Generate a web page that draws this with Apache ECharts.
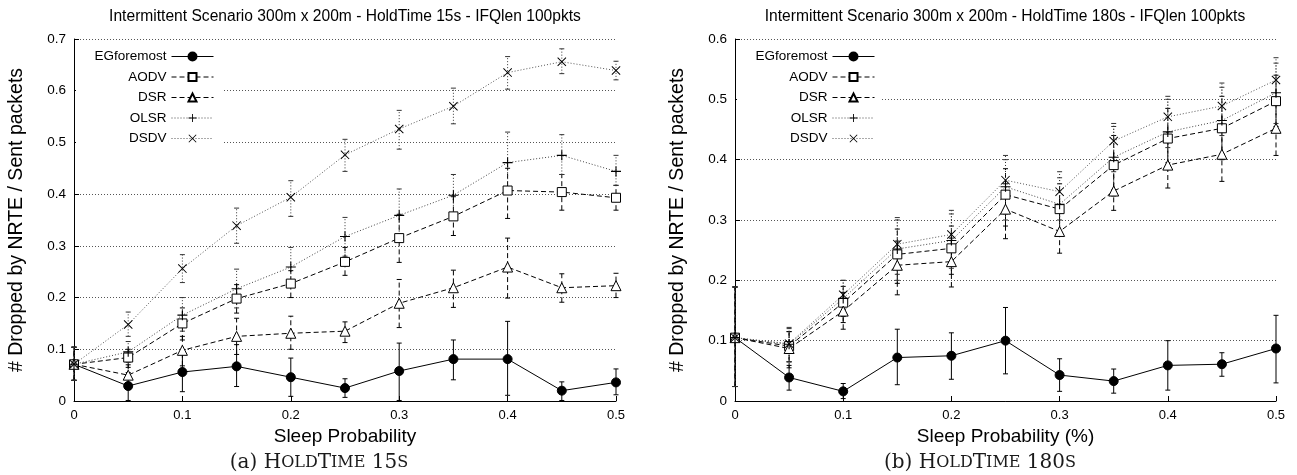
<!DOCTYPE html>
<html><head><meta charset="utf-8">
<script src="https://cdn.jsdelivr.net/npm/echarts@6/dist/echarts.min.js"></script>
<style>html,body{margin:0;padding:0;background:#fff}#c{width:1297px;height:475px}</style>
</head><body><div id="c"></div>
<script>
// ---------- data ----------
const sleepProb = [0, 0.05, 0.1, 0.15, 0.2, 0.25, 0.3, 0.35, 0.4, 0.45, 0.5];
const protocols = ['EGforemost', 'AODV', 'DSR', 'OLSR', 'DSDV'];
const xTickLabels = ['0', '0.1', '0.2', '0.3', '0.4', '0.5'];
const yTickLabelsA = ['0', '0.1', '0.2', '0.3', '0.4', '0.5', '0.6', '0.7'];
const yTickLabelsB = ['0', '0.1', '0.2', '0.3', '0.4', '0.5', '0.6'];
const titleA = 'Intermittent Scenario 300m x 200m - HoldTime 15s - IFQlen 100pkts';
const titleB = 'Intermittent Scenario 300m x 200m - HoldTime 180s - IFQlen 100pkts';
const xNameA = 'Sleep Probability';
const xNameB = 'Sleep Probability (%)';
const yName = '# Dropped by NRTE / Sent packets';

// (a) HoldTime 15s
const a_EG      = [0.071, 0.029, 0.056, 0.067, 0.046, 0.025, 0.058, 0.081, 0.081, 0.020, 0.036];
const a_EG_lo   = [0.040, 0.001, 0.018, 0.028, 0.009, 0.007, 0.001, 0.041, 0.011, 0.001, 0.012];
const a_EG_hi   = [0.104, 0.055, 0.090, 0.109, 0.083, 0.043, 0.112, 0.118, 0.154, 0.037, 0.062];
const a_AODV    = [0.071, 0.084, 0.150, 0.198, 0.227, 0.269, 0.315, 0.357, 0.407, 0.404, 0.393];
const a_AODV_lo = [0.040, 0.065, 0.118, 0.170, 0.200, 0.243, 0.268, 0.320, 0.353, 0.369, 0.369];
const a_AODV_hi = [0.104, 0.100, 0.180, 0.225, 0.252, 0.297, 0.361, 0.395, 0.450, 0.438, 0.417];
const a_DSR     = [0.071, 0.050, 0.098, 0.125, 0.131, 0.135, 0.189, 0.219, 0.259, 0.219, 0.223];
const a_DSR_lo  = [0.040, 0.030, 0.068, 0.090, 0.100, 0.113, 0.142, 0.181, 0.199, 0.191, 0.200];
const a_DSR_hi  = [0.104, 0.070, 0.125, 0.160, 0.164, 0.153, 0.235, 0.253, 0.315, 0.246, 0.247];
const a_OLSR    = [0.071, 0.095, 0.166, 0.217, 0.259, 0.318, 0.359, 0.398, 0.461, 0.475, 0.444];
const a_OLSR_lo = [0.040, 0.075, 0.135, 0.180, 0.222, 0.280, 0.310, 0.360, 0.400, 0.438, 0.417];
const a_OLSR_hi = [0.104, 0.115, 0.200, 0.255, 0.297, 0.355, 0.410, 0.438, 0.520, 0.515, 0.475];
const a_DSDV    = [0.071, 0.148, 0.256, 0.339, 0.394, 0.476, 0.526, 0.570, 0.635, 0.656, 0.639];
const a_DSDV_lo = [0.040, 0.125, 0.229, 0.305, 0.357, 0.444, 0.487, 0.536, 0.603, 0.633, 0.621];
const a_DSDV_hi = [0.104, 0.172, 0.283, 0.373, 0.426, 0.506, 0.562, 0.605, 0.666, 0.681, 0.657];

// (b) HoldTime 180s
const b_EG      = [0.105, 0.039, 0.016, 0.072, 0.075, 0.100, 0.043, 0.033, 0.059, 0.061, 0.087];
const b_EG_lo   = [0.024, 0.018, 0.004, 0.027, 0.036, 0.045, 0.016, 0.013, 0.018, 0.041, 0.030];
const b_EG_hi   = [0.189, 0.059, 0.029, 0.119, 0.113, 0.155, 0.070, 0.053, 0.100, 0.080, 0.142];
const b_AODV    = [0.105, 0.091, 0.163, 0.243, 0.253, 0.342, 0.318, 0.391, 0.435, 0.452, 0.497];
const b_AODV_lo = [0.024, 0.065, 0.130, 0.195, 0.210, 0.290, 0.280, 0.340, 0.385, 0.400, 0.455];
const b_AODV_hi = [0.189, 0.115, 0.190, 0.285, 0.290, 0.385, 0.360, 0.440, 0.485, 0.505, 0.540];
const b_DSR     = [0.105, 0.087, 0.149, 0.225, 0.231, 0.318, 0.281, 0.348, 0.391, 0.409, 0.452];
const b_DSR_lo  = [0.024, 0.055, 0.119, 0.176, 0.189, 0.269, 0.245, 0.316, 0.353, 0.364, 0.407];
const b_DSR_hi  = [0.189, 0.115, 0.180, 0.265, 0.270, 0.360, 0.320, 0.385, 0.430, 0.450, 0.495];
const b_OLSR    = [0.105, 0.094, 0.170, 0.252, 0.266, 0.355, 0.326, 0.404, 0.446, 0.465, 0.511];
const b_OLSR_lo = [0.024, 0.065, 0.140, 0.200, 0.220, 0.300, 0.280, 0.350, 0.395, 0.410, 0.460];
const b_OLSR_hi = [0.189, 0.120, 0.200, 0.300, 0.310, 0.400, 0.370, 0.455, 0.500, 0.520, 0.560];
const b_DSDV    = [0.105, 0.095, 0.176, 0.260, 0.276, 0.366, 0.347, 0.431, 0.471, 0.489, 0.532];
const b_DSDV_lo = [0.024, 0.065, 0.145, 0.210, 0.230, 0.310, 0.300, 0.380, 0.420, 0.440, 0.490];
const b_DSDV_hi = [0.189, 0.122, 0.200, 0.304, 0.316, 0.407, 0.380, 0.460, 0.505, 0.527, 0.569];

// ---------- build ----------
const panels = [
  [[a_EG, a_EG_lo, a_EG_hi], [a_AODV, a_AODV_lo, a_AODV_hi], [a_DSR, a_DSR_lo, a_DSR_hi], [a_OLSR, a_OLSR_lo, a_OLSR_hi], [a_DSDV, a_DSDV_lo, a_DSDV_hi]],
  [[b_EG, b_EG_lo, b_EG_hi], [b_AODV, b_AODV_lo, b_AODV_hi], [b_DSR, b_DSR_lo, b_DSR_hi], [b_OLSR, b_OLSR_lo, b_OLSR_hi], [b_DSDV, b_DSDV_lo, b_DSDV_hi]]
];
const FONT = 'Liberation Sans, Arial, Helvetica, sans-serif';
const SERIF = 'DejaVu Serif, serif';
const plusPath = 'path://M4.45,0H5.55V10H4.45Z M0,4.45H10V5.55H0Z';
const crossPath = 'path://M0,0.75L0.75,0L10,9.25L9.25,10Z M9.25,0L10,0.75L0.75,10L0,9.25Z';
const styles = [
  {symbol: 'circle', size: 9, fill: '#000', border: '#000', line: '#000', dash: 'solid'},
  {symbol: 'rect', size: 9, fill: '#fff', border: '#000', line: '#000', dash: [5, 3]},
  {symbol: 'triangle', size: 10, fill: '#fff', border: '#000', line: '#000', dash: [5, 3]},
  {symbol: plusPath, size: 10, fill: '#000', border: 'transparent', line: '#444', dash: [1, 2]},
  {symbol: crossPath, size: 9, fill: '#000', border: 'transparent', line: '#555', dash: [1, 2]}
];
const grids = [
  {left: 74, top: 39, width: 542, height: 362},
  {left: 735, top: 39, width: 541, height: 362}
];
const yMax = [0.7, 0.6];
const yTicks = [yTickLabelsA, yTickLabelsB];
const xNames = [xNameA, xNameB];

const series = [];
panels.forEach((panel, g) => {
  panel.forEach((arrs, p) => {
    const st = styles[p];
    const [mean, lo, hi] = arrs;
    series.push({
      type: 'custom', xAxisIndex: g, yAxisIndex: g, z: 1, clip: false, silent: true,
      data: sleepProb.map((x, i) => [x, lo[i], hi[i]]),
      encode: {x: 0, y: [1, 2]},
      renderItem: function (params, api) {
        const x = api.value(0);
        const a = api.coord([x, api.value(1)]);
        const b = api.coord([x, api.value(2)]);
        const s = {stroke: st.line === '#000' ? '#000' : '#333', lineWidth: 1, lineDash: st.dash === 'solid' ? null : st.dash, fill: null};
        const h = 2.5;
        return {type: 'group', children: [
          {type: 'line', shape: {x1: a[0], y1: a[1], x2: b[0], y2: b[1]}, style: s},
          {type: 'line', shape: {x1: a[0] - h, y1: a[1], x2: a[0] + h, y2: a[1]}, style: Object.assign({}, s, {lineDash: null})},
          {type: 'line', shape: {x1: b[0] - h, y1: b[1], x2: b[0] + h, y2: b[1]}, style: Object.assign({}, s, {lineDash: null})}
        ]};
      }
    });
    series.push({
      type: 'line', name: protocols[p], xAxisIndex: g, yAxisIndex: g, z: 3,
      data: sleepProb.map((x, i) => [x, mean[i]]),
      symbol: st.symbol, symbolSize: st.size, showSymbol: true,
      lineStyle: {color: st.line, width: 1, type: st.dash},
      itemStyle: {color: st.fill, borderColor: st.border, borderWidth: st.border === 'transparent' ? 0 : 1},
      emphasis: {disabled: true}
    });
  });
});

const legendCenters = [57, 77.5, 98, 118.5, 139];
const legendRight = [1297 - 214, 1297 - 875];
const legends = [];
[0, 1].forEach(g => {
  protocols.forEach((p, i) => {
    legends.push({
      data: [p], right: legendRight[g], top: legendCenters[i] - 7.5, orient: 'horizontal', align: 'right',
      itemWidth: 42, itemHeight: 10, padding: 0, selectedMode: false, z: 5,
      lineStyle: {width: 1},
      textStyle: {fontSize: 13.5, color: '#000', fontFamily: FONT}
    });
  });
});

const option = {
  animation: false,
  backgroundColor: '#fff',
  grid: grids,
  legend: legends,
  xAxis: [0, 1].map(g => ({
    type: 'value', gridIndex: g, min: 0, max: 0.5, interval: 0.1,
    axisLine: {show: true, onZero: false, lineStyle: {color: '#000', width: 1}},
    axisTick: {show: true, inside: true, length: 5, lineStyle: {color: '#000'}},
    axisLabel: {fontSize: 13, color: '#000', margin: 8, fontFamily: FONT, formatter: v => xTickLabels[Math.round(v * 10)]},
    splitLine: {show: false},
    name: xNames[g], nameLocation: 'middle', nameGap: 24,
    nameTextStyle: {fontSize: 19, color: '#000', fontFamily: FONT}
  })),
  yAxis: [0, 1].map(g => ({
    type: 'value', gridIndex: g, min: 0, max: yMax[g], interval: 0.1,
    axisLine: {show: true, onZero: false, lineStyle: {color: '#000', width: 1}},
    axisTick: {show: true, inside: true, length: 5, lineStyle: {color: '#000'}},
    axisLabel: {fontSize: 13.5, color: '#000', margin: 8, fontFamily: FONT, formatter: v => yTicks[g][Math.round(v * 10)]},
    splitLine: {show: true, lineStyle: {color: '#555', width: 1, type: [1, 2]}},
    name: yName, nameLocation: 'middle', nameGap: 47,
    nameTextStyle: {fontSize: 19.5, color: '#000', fontFamily: FONT}
  })),
  graphic: [
    {type: 'rect', z: 3, shape: {x: 76, y: 46, width: 146, height: 104}, style: {fill: '#fff'}, silent: true},
    {type: 'rect', z: 3, shape: {x: 737, y: 46, width: 145, height: 104}, style: {fill: '#fff'}, silent: true},
    {type: 'text', z: 5, x: 345, y: 17, style: {text: titleA, align: 'center', verticalAlign: 'middle', fontSize: 15.6, fontFamily: FONT, fill: '#000'}},
    {type: 'text', z: 5, x: 1005, y: 17, style: {text: titleB, align: 'center', verticalAlign: 'middle', fontSize: 15.6, fontFamily: FONT, fill: '#000'}},
    {type: 'text', z: 5, x: 319, y: 463, style: {text: '(a) {b|H}{s|OLD}{b|T}{s|IME} {b|15}{s|S}', align: 'center', verticalAlign: 'middle', fontSize: 20, fontFamily: SERIF, fill: '#1a1a1a',
      rich: {b: {fontSize: 20, fontFamily: SERIF, fill: '#1a1a1a'}, s: {fontSize: 16, fontFamily: SERIF, fill: '#1a1a1a'}}}},
    {type: 'text', z: 5, x: 980, y: 463, style: {text: '(b) {b|H}{s|OLD}{b|T}{s|IME} {b|180}{s|S}', align: 'center', verticalAlign: 'middle', fontSize: 20, fontFamily: SERIF, fill: '#1a1a1a',
      rich: {b: {fontSize: 20, fontFamily: SERIF, fill: '#1a1a1a'}, s: {fontSize: 16, fontFamily: SERIF, fill: '#1a1a1a'}}}}
  ],
  series: series
};
const chart = echarts.init(document.getElementById('c'), null, {renderer: 'canvas'});
chart.setOption(option);
</script></body></html>
